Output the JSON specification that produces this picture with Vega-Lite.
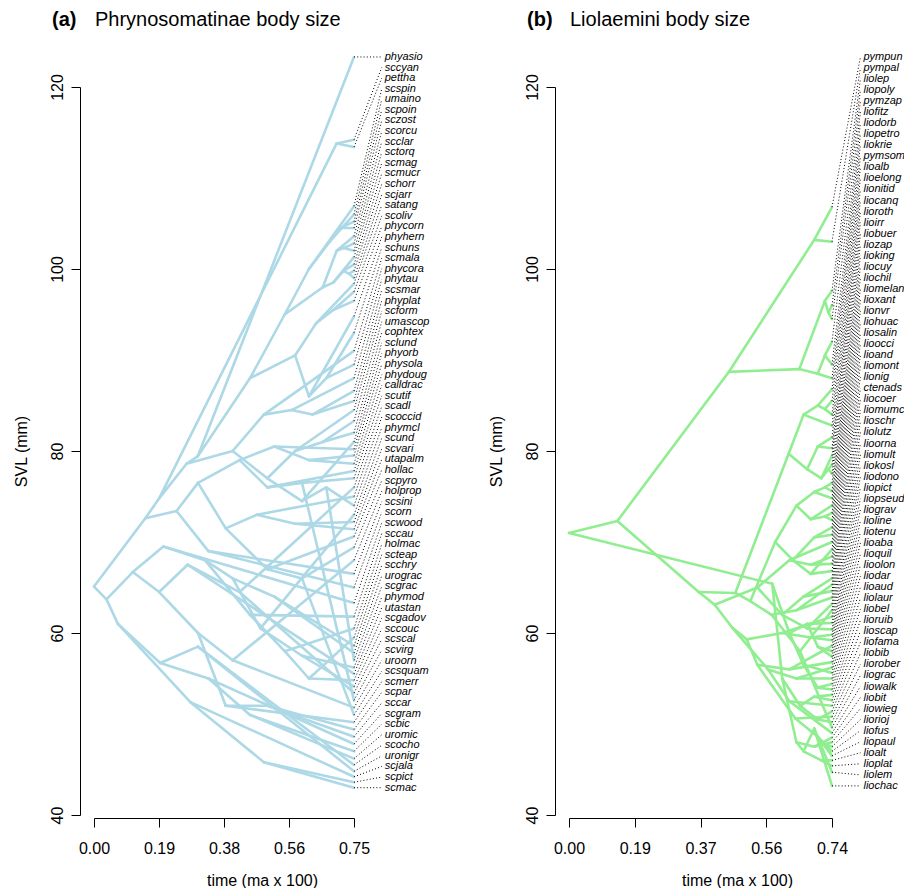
{
  "$schema": "https://vega.github.io/schema/vega-lite/v6.json",
  "padding": {"left": 13, "top": 9, "right": 0, "bottom": 0},
  "spacing": 475,
  "bounds": "flush",
  "datasets": {
    "edgesA": [
      {"t0":0,"v0":65.1,"t1":0.148,"v1":72.6},
      {"t0":0,"v0":65.1,"t1":0.036,"v1":63.7},
      {"t0":0.148,"v0":72.6,"t1":0.188,"v1":74.8},
      {"t0":0.148,"v0":72.6,"t1":0.238,"v1":73.4},
      {"t0":0.188,"v0":74.8,"t1":0.267,"v1":78.6},
      {"t0":0.188,"v0":74.8,"t1":0.70,"v1":113.8},
      {"t0":0.70,"v0":113.8,"t1":0.75,"v1":114.2},
      {"t0":0.70,"v0":113.8,"t1":0.75,"v1":113.4},
      {"t0":0.267,"v0":78.6,"t1":0.299,"v1":79.4},
      {"t0":0.267,"v0":78.6,"t1":0.40,"v1":80.0},
      {"t0":0.299,"v0":79.4,"t1":0.75,"v1":123.3},
      {"t0":0.299,"v0":79.4,"t1":0.45,"v1":88.0},
      {"t0":0.45,"v0":88.0,"t1":0.55,"v1":95.0},
      {"t0":0.45,"v0":88.0,"t1":0.58,"v1":90.5},
      {"t0":0.55,"v0":95.0,"t1":0.62,"v1":100.0},
      {"t0":0.55,"v0":95.0,"t1":0.66,"v1":98.0},
      {"t0":0.62,"v0":100.0,"t1":0.68,"v1":103.0},
      {"t0":0.62,"v0":100.0,"t1":0.75,"v1":106.9},
      {"t0":0.68,"v0":103.0,"t1":0.75,"v1":106.0},
      {"t0":0.68,"v0":103.0,"t1":0.71,"v1":104.5},
      {"t0":0.71,"v0":104.5,"t1":0.75,"v1":105.2},
      {"t0":0.71,"v0":104.5,"t1":0.75,"v1":104.5},
      {"t0":0.66,"v0":98.0,"t1":0.70,"v1":102.0},
      {"t0":0.66,"v0":98.0,"t1":0.69,"v1":98.5},
      {"t0":0.70,"v0":102.0,"t1":0.75,"v1":103.6},
      {"t0":0.70,"v0":102.0,"t1":0.72,"v1":102.3},
      {"t0":0.72,"v0":102.3,"t1":0.75,"v1":102.8},
      {"t0":0.72,"v0":102.3,"t1":0.75,"v1":102.0},
      {"t0":0.69,"v0":98.5,"t1":0.75,"v1":101.3},
      {"t0":0.69,"v0":98.5,"t1":0.72,"v1":99.8},
      {"t0":0.72,"v0":99.8,"t1":0.75,"v1":100.5},
      {"t0":0.72,"v0":99.8,"t1":0.735,"v1":99.5},
      {"t0":0.735,"v0":99.5,"t1":0.75,"v1":99.8},
      {"t0":0.735,"v0":99.5,"t1":0.75,"v1":99.0},
      {"t0":0.58,"v0":90.5,"t1":0.64,"v1":94.0},
      {"t0":0.58,"v0":90.5,"t1":0.62,"v1":86.0},
      {"t0":0.64,"v0":94.0,"t1":0.75,"v1":98.4},
      {"t0":0.64,"v0":94.0,"t1":0.69,"v1":95.5},
      {"t0":0.69,"v0":95.5,"t1":0.75,"v1":97.5},
      {"t0":0.69,"v0":95.5,"t1":0.75,"v1":96.5},
      {"t0":0.62,"v0":86.0,"t1":0.75,"v1":94.8},
      {"t0":0.62,"v0":86.0,"t1":0.67,"v1":88.0},
      {"t0":0.67,"v0":88.0,"t1":0.75,"v1":93.0},
      {"t0":0.67,"v0":88.0,"t1":0.75,"v1":89.5},
      {"t0":0.40,"v0":80.0,"t1":0.49,"v1":84.0},
      {"t0":0.40,"v0":80.0,"t1":0.50,"v1":77.0},
      {"t0":0.49,"v0":84.0,"t1":0.75,"v1":91.0},
      {"t0":0.49,"v0":84.0,"t1":0.57,"v1":84.5},
      {"t0":0.57,"v0":84.5,"t1":0.75,"v1":88.0},
      {"t0":0.57,"v0":84.5,"t1":0.63,"v1":84.0},
      {"t0":0.63,"v0":84.0,"t1":0.75,"v1":86.6},
      {"t0":0.63,"v0":84.0,"t1":0.75,"v1":85.5},
      {"t0":0.50,"v0":77.0,"t1":0.58,"v1":80.0},
      {"t0":0.50,"v0":77.0,"t1":0.60,"v1":74.5},
      {"t0":0.58,"v0":80.0,"t1":0.75,"v1":84.5},
      {"t0":0.58,"v0":80.0,"t1":0.66,"v1":81.0},
      {"t0":0.66,"v0":81.0,"t1":0.75,"v1":83.3},
      {"t0":0.66,"v0":81.0,"t1":0.75,"v1":82.0},
      {"t0":0.60,"v0":74.5,"t1":0.75,"v1":81.0},
      {"t0":0.60,"v0":74.5,"t1":0.67,"v1":76.0},
      {"t0":0.67,"v0":76.0,"t1":0.75,"v1":74.0},
      {"t0":0.67,"v0":76.0,"t1":0.75,"v1":57.0},
      {"t0":0.238,"v0":73.4,"t1":0.30,"v1":76.5},
      {"t0":0.238,"v0":73.4,"t1":0.33,"v1":69.0},
      {"t0":0.30,"v0":76.5,"t1":0.42,"v1":79.0},
      {"t0":0.30,"v0":76.5,"t1":0.38,"v1":71.5},
      {"t0":0.42,"v0":79.0,"t1":0.52,"v1":80.5},
      {"t0":0.42,"v0":79.0,"t1":0.50,"v1":76.0},
      {"t0":0.52,"v0":80.5,"t1":0.75,"v1":80.2},
      {"t0":0.52,"v0":80.5,"t1":0.62,"v1":79.0},
      {"t0":0.62,"v0":79.0,"t1":0.75,"v1":79.5},
      {"t0":0.62,"v0":79.0,"t1":0.75,"v1":78.6},
      {"t0":0.50,"v0":76.0,"t1":0.75,"v1":77.8},
      {"t0":0.50,"v0":76.0,"t1":0.60,"v1":76.5},
      {"t0":0.60,"v0":76.5,"t1":0.75,"v1":77.0},
      {"t0":0.60,"v0":76.5,"t1":0.75,"v1":52.6},
      {"t0":0.38,"v0":71.5,"t1":0.47,"v1":73.0},
      {"t0":0.38,"v0":71.5,"t1":0.50,"v1":67.0},
      {"t0":0.47,"v0":73.0,"t1":0.75,"v1":75.0},
      {"t0":0.47,"v0":73.0,"t1":0.58,"v1":72.0},
      {"t0":0.58,"v0":72.0,"t1":0.75,"v1":72.2},
      {"t0":0.58,"v0":72.0,"t1":0.75,"v1":71.4},
      {"t0":0.50,"v0":67.0,"t1":0.75,"v1":70.6},
      {"t0":0.50,"v0":67.0,"t1":0.60,"v1":66.0},
      {"t0":0.60,"v0":66.0,"t1":0.75,"v1":69.4},
      {"t0":0.60,"v0":66.0,"t1":0.75,"v1":51.0},
      {"t0":0.33,"v0":69.0,"t1":0.75,"v1":66.5},
      {"t0":0.33,"v0":69.0,"t1":0.75,"v1":65.0},
      {"t0":0.036,"v0":63.7,"t1":0.112,"v1":66.7},
      {"t0":0.036,"v0":63.7,"t1":0.069,"v1":61.0},
      {"t0":0.112,"v0":66.7,"t1":0.188,"v1":64.5},
      {"t0":0.112,"v0":66.7,"t1":0.20,"v1":69.5},
      {"t0":0.20,"v0":69.5,"t1":0.32,"v1":68.0},
      {"t0":0.20,"v0":69.5,"t1":0.75,"v1":63.3},
      {"t0":0.32,"v0":68.0,"t1":0.45,"v1":62.0},
      {"t0":0.32,"v0":68.0,"t1":0.40,"v1":66.0},
      {"t0":0.45,"v0":62.0,"t1":0.75,"v1":61.8},
      {"t0":0.45,"v0":62.0,"t1":0.55,"v1":58.0},
      {"t0":0.55,"v0":58.0,"t1":0.75,"v1":60.5},
      {"t0":0.55,"v0":58.0,"t1":0.62,"v1":55.0},
      {"t0":0.62,"v0":55.0,"t1":0.75,"v1":59.5},
      {"t0":0.62,"v0":55.0,"t1":0.75,"v1":54.8},
      {"t0":0.40,"v0":66.0,"t1":0.52,"v1":64.0},
      {"t0":0.40,"v0":66.0,"t1":0.48,"v1":60.5},
      {"t0":0.52,"v0":64.0,"t1":0.75,"v1":58.6},
      {"t0":0.52,"v0":64.0,"t1":0.75,"v1":57.8},
      {"t0":0.48,"v0":60.5,"t1":0.75,"v1":73.0},
      {"t0":0.48,"v0":60.5,"t1":0.60,"v1":57.5},
      {"t0":0.60,"v0":57.5,"t1":0.75,"v1":56.2},
      {"t0":0.60,"v0":57.5,"t1":0.75,"v1":54.1},
      {"t0":0.188,"v0":64.5,"t1":0.30,"v1":60.0},
      {"t0":0.188,"v0":64.5,"t1":0.27,"v1":67.5},
      {"t0":0.27,"v0":67.5,"t1":0.75,"v1":55.5},
      {"t0":0.27,"v0":67.5,"t1":0.42,"v1":64.5},
      {"t0":0.42,"v0":64.5,"t1":0.75,"v1":53.4},
      {"t0":0.42,"v0":64.5,"t1":0.75,"v1":76.0},
      {"t0":0.30,"v0":60.0,"t1":0.40,"v1":57.0},
      {"t0":0.30,"v0":60.0,"t1":0.38,"v1":52.0},
      {"t0":0.40,"v0":57.0,"t1":0.75,"v1":51.8},
      {"t0":0.40,"v0":57.0,"t1":0.75,"v1":68.0},
      {"t0":0.38,"v0":52.0,"t1":0.75,"v1":50.2},
      {"t0":0.38,"v0":52.0,"t1":0.50,"v1":52.0},
      {"t0":0.50,"v0":52.0,"t1":0.75,"v1":49.4},
      {"t0":0.50,"v0":52.0,"t1":0.75,"v1":48.6},
      {"t0":0.069,"v0":61.0,"t1":0.191,"v1":56.7},
      {"t0":0.069,"v0":61.0,"t1":0.278,"v1":52.4},
      {"t0":0.191,"v0":56.7,"t1":0.33,"v1":55.0},
      {"t0":0.191,"v0":56.7,"t1":0.30,"v1":58.5},
      {"t0":0.33,"v0":55.0,"t1":0.75,"v1":47.8},
      {"t0":0.33,"v0":55.0,"t1":0.45,"v1":51.0},
      {"t0":0.45,"v0":51.0,"t1":0.75,"v1":47.0},
      {"t0":0.45,"v0":51.0,"t1":0.75,"v1":46.2},
      {"t0":0.30,"v0":58.5,"t1":0.75,"v1":45.5},
      {"t0":0.30,"v0":58.5,"t1":0.75,"v1":44.8},
      {"t0":0.278,"v0":52.4,"t1":0.49,"v1":45.8},
      {"t0":0.278,"v0":52.4,"t1":0.75,"v1":44.2},
      {"t0":0.49,"v0":45.8,"t1":0.75,"v1":43.6},
      {"t0":0.49,"v0":45.8,"t1":0.75,"v1":43.0}
    ],
    "tipsA": [
      {"tip":"phyasio","value":123.3,"labelY":123.30},
      {"tip":"sccyan","value":114.2,"labelY":122.14},
      {"tip":"pettha","value":113.4,"labelY":120.97},
      {"tip":"scspin","value":106.9,"labelY":119.81},
      {"tip":"umaino","value":106.0,"labelY":118.64},
      {"tip":"scpoin","value":105.2,"labelY":117.48},
      {"tip":"sczost","value":104.5,"labelY":116.32},
      {"tip":"scorcu","value":103.6,"labelY":115.15},
      {"tip":"scclar","value":102.8,"labelY":113.99},
      {"tip":"sctorq","value":102.0,"labelY":112.83},
      {"tip":"scmag","value":101.3,"labelY":111.66},
      {"tip":"scmucr","value":100.5,"labelY":110.50},
      {"tip":"schorr","value":99.8,"labelY":109.33},
      {"tip":"scjarr","value":99.0,"labelY":108.17},
      {"tip":"satang","value":98.4,"labelY":107.01},
      {"tip":"scoliv","value":97.5,"labelY":105.84},
      {"tip":"phycorn","value":96.5,"labelY":104.68},
      {"tip":"phyhern","value":94.8,"labelY":103.52},
      {"tip":"schuns","value":93.0,"labelY":102.35},
      {"tip":"scmala","value":91.0,"labelY":101.19},
      {"tip":"phycora","value":89.5,"labelY":100.03},
      {"tip":"phytau","value":88.0,"labelY":98.86},
      {"tip":"scsmar","value":86.6,"labelY":97.70},
      {"tip":"phyplat","value":85.5,"labelY":96.53},
      {"tip":"scform","value":84.5,"labelY":95.37},
      {"tip":"umascop","value":83.3,"labelY":94.21},
      {"tip":"cophtex","value":82.0,"labelY":93.04},
      {"tip":"sclund","value":81.0,"labelY":91.88},
      {"tip":"phyorb","value":80.2,"labelY":90.72},
      {"tip":"physola","value":79.5,"labelY":89.55},
      {"tip":"phydoug","value":78.6,"labelY":88.39},
      {"tip":"calldrac","value":77.8,"labelY":87.22},
      {"tip":"scutif","value":77.0,"labelY":86.06},
      {"tip":"scadl","value":76.0,"labelY":84.90},
      {"tip":"scoccid","value":75.0,"labelY":83.73},
      {"tip":"phymcl","value":74.0,"labelY":82.57},
      {"tip":"scund","value":73.0,"labelY":81.41},
      {"tip":"scvari","value":72.2,"labelY":80.24},
      {"tip":"utapalm","value":71.4,"labelY":79.08},
      {"tip":"hollac","value":70.6,"labelY":77.91},
      {"tip":"scpyro","value":69.4,"labelY":76.75},
      {"tip":"holprop","value":68.0,"labelY":75.59},
      {"tip":"scsini","value":66.5,"labelY":74.42},
      {"tip":"scorn","value":65.0,"labelY":73.26},
      {"tip":"scwood","value":63.3,"labelY":72.10},
      {"tip":"sccau","value":61.8,"labelY":70.93},
      {"tip":"holmac","value":60.5,"labelY":69.77},
      {"tip":"scteap","value":59.5,"labelY":68.60},
      {"tip":"scchry","value":58.6,"labelY":67.44},
      {"tip":"urograc","value":57.8,"labelY":66.28},
      {"tip":"scgrac","value":57.0,"labelY":65.11},
      {"tip":"phymod","value":56.2,"labelY":63.95},
      {"tip":"utastan","value":55.5,"labelY":62.79},
      {"tip":"scgadov","value":54.8,"labelY":61.62},
      {"tip":"sccouc","value":54.1,"labelY":60.46},
      {"tip":"scscal","value":53.4,"labelY":59.30},
      {"tip":"scvirg","value":52.6,"labelY":58.13},
      {"tip":"uroorn","value":51.8,"labelY":56.97},
      {"tip":"scsquam","value":51.0,"labelY":55.80},
      {"tip":"scmerr","value":50.2,"labelY":54.64},
      {"tip":"scpar","value":49.4,"labelY":53.48},
      {"tip":"sccar","value":48.6,"labelY":52.31},
      {"tip":"scgram","value":47.8,"labelY":51.15},
      {"tip":"scbic","value":47.0,"labelY":49.99},
      {"tip":"uromic","value":46.2,"labelY":48.82},
      {"tip":"scocho","value":45.5,"labelY":47.66},
      {"tip":"uronigr","value":44.8,"labelY":46.49},
      {"tip":"scjala","value":44.2,"labelY":45.33},
      {"tip":"scpict","value":43.6,"labelY":44.17},
      {"tip":"scmac","value":43.0,"labelY":43.00}
    ],
    "edgesB": [
      {"t0":0,"v0":71.0,"t1":0.136,"v1":72.3},
      {"t0":0,"v0":71.0,"t1":0.572,"v1":65.4},
      {"t0":0.136,"v0":72.3,"t1":0.45,"v1":88.7},
      {"t0":0.136,"v0":72.3,"t1":0.365,"v1":64.5},
      {"t0":0.45,"v0":88.7,"t1":0.69,"v1":103.2},
      {"t0":0.45,"v0":88.7,"t1":0.648,"v1":89.0},
      {"t0":0.69,"v0":103.2,"t1":0.74,"v1":106.8},
      {"t0":0.69,"v0":103.2,"t1":0.74,"v1":103.0},
      {"t0":0.648,"v0":89.0,"t1":0.72,"v1":96.5},
      {"t0":0.648,"v0":89.0,"t1":0.70,"v1":88.5},
      {"t0":0.72,"v0":96.5,"t1":0.74,"v1":97.6},
      {"t0":0.72,"v0":96.5,"t1":0.73,"v1":95.2},
      {"t0":0.73,"v0":95.2,"t1":0.74,"v1":96.0},
      {"t0":0.73,"v0":95.2,"t1":0.74,"v1":94.5},
      {"t0":0.70,"v0":88.5,"t1":0.72,"v1":90.5},
      {"t0":0.70,"v0":88.5,"t1":0.74,"v1":88.0},
      {"t0":0.72,"v0":90.5,"t1":0.74,"v1":92.0},
      {"t0":0.72,"v0":90.5,"t1":0.74,"v1":89.5},
      {"t0":0.365,"v0":64.5,"t1":0.468,"v1":64.4},
      {"t0":0.365,"v0":64.5,"t1":0.41,"v1":63.1},
      {"t0":0.468,"v0":64.4,"t1":0.618,"v1":79.7},
      {"t0":0.468,"v0":64.4,"t1":0.51,"v1":63.5},
      {"t0":0.618,"v0":79.7,"t1":0.66,"v1":84.0},
      {"t0":0.618,"v0":79.7,"t1":0.67,"v1":78.0},
      {"t0":0.66,"v0":84.0,"t1":0.70,"v1":85.0},
      {"t0":0.66,"v0":84.0,"t1":0.74,"v1":82.8},
      {"t0":0.70,"v0":85.0,"t1":0.74,"v1":86.8},
      {"t0":0.70,"v0":85.0,"t1":0.72,"v1":84.6},
      {"t0":0.72,"v0":84.6,"t1":0.74,"v1":85.5},
      {"t0":0.72,"v0":84.6,"t1":0.74,"v1":84.0},
      {"t0":0.67,"v0":78.0,"t1":0.70,"v1":80.5},
      {"t0":0.67,"v0":78.0,"t1":0.71,"v1":77.0},
      {"t0":0.70,"v0":80.5,"t1":0.74,"v1":81.5},
      {"t0":0.70,"v0":80.5,"t1":0.74,"v1":80.3},
      {"t0":0.71,"v0":77.0,"t1":0.74,"v1":79.5},
      {"t0":0.71,"v0":77.0,"t1":0.73,"v1":78.0},
      {"t0":0.73,"v0":78.0,"t1":0.74,"v1":78.5},
      {"t0":0.73,"v0":78.0,"t1":0.74,"v1":77.5},
      {"t0":0.51,"v0":63.5,"t1":0.58,"v1":70.0},
      {"t0":0.51,"v0":63.5,"t1":0.57,"v1":62.0},
      {"t0":0.58,"v0":70.0,"t1":0.64,"v1":74.0},
      {"t0":0.58,"v0":70.0,"t1":0.63,"v1":68.0},
      {"t0":0.64,"v0":74.0,"t1":0.69,"v1":75.5},
      {"t0":0.64,"v0":74.0,"t1":0.68,"v1":72.5},
      {"t0":0.69,"v0":75.5,"t1":0.72,"v1":76.0},
      {"t0":0.69,"v0":75.5,"t1":0.74,"v1":74.8},
      {"t0":0.72,"v0":76.0,"t1":0.74,"v1":76.5},
      {"t0":0.72,"v0":76.0,"t1":0.74,"v1":75.6},
      {"t0":0.68,"v0":72.5,"t1":0.74,"v1":74.0},
      {"t0":0.68,"v0":72.5,"t1":0.72,"v1":72.8},
      {"t0":0.72,"v0":72.8,"t1":0.74,"v1":73.2},
      {"t0":0.72,"v0":72.8,"t1":0.74,"v1":72.4},
      {"t0":0.63,"v0":68.0,"t1":0.69,"v1":70.5},
      {"t0":0.63,"v0":68.0,"t1":0.68,"v1":66.5},
      {"t0":0.69,"v0":70.5,"t1":0.74,"v1":71.6},
      {"t0":0.69,"v0":70.5,"t1":0.74,"v1":70.8},
      {"t0":0.68,"v0":66.5,"t1":0.74,"v1":69.2},
      {"t0":0.68,"v0":66.5,"t1":0.74,"v1":66.8},
      {"t0":0.57,"v0":62.0,"t1":0.64,"v1":62.5},
      {"t0":0.57,"v0":62.0,"t1":0.65,"v1":58.0},
      {"t0":0.64,"v0":62.5,"t1":0.74,"v1":65.3},
      {"t0":0.64,"v0":62.5,"t1":0.74,"v1":63.9},
      {"t0":0.65,"v0":58.0,"t1":0.74,"v1":62.5},
      {"t0":0.65,"v0":58.0,"t1":0.74,"v1":49.6},
      {"t0":0.41,"v0":63.1,"t1":0.459,"v1":60.6},
      {"t0":0.41,"v0":63.1,"t1":0.53,"v1":65.0},
      {"t0":0.53,"v0":65.0,"t1":0.62,"v1":68.0},
      {"t0":0.53,"v0":65.0,"t1":0.60,"v1":62.0},
      {"t0":0.62,"v0":68.0,"t1":0.74,"v1":70.0},
      {"t0":0.62,"v0":68.0,"t1":0.68,"v1":67.5},
      {"t0":0.68,"v0":67.5,"t1":0.74,"v1":68.4},
      {"t0":0.68,"v0":67.5,"t1":0.74,"v1":67.6},
      {"t0":0.60,"v0":62.0,"t1":0.66,"v1":64.0},
      {"t0":0.60,"v0":62.0,"t1":0.67,"v1":60.5},
      {"t0":0.66,"v0":64.0,"t1":0.74,"v1":66.0},
      {"t0":0.66,"v0":64.0,"t1":0.74,"v1":64.6},
      {"t0":0.67,"v0":60.5,"t1":0.74,"v1":63.2},
      {"t0":0.67,"v0":60.5,"t1":0.74,"v1":60.4},
      {"t0":0.459,"v0":60.6,"t1":0.50,"v1":59.3},
      {"t0":0.459,"v0":60.6,"t1":0.56,"v1":56.0},
      {"t0":0.50,"v0":59.3,"t1":0.60,"v1":60.0},
      {"t0":0.50,"v0":59.3,"t1":0.53,"v1":56.5},
      {"t0":0.60,"v0":60.0,"t1":0.74,"v1":61.8},
      {"t0":0.60,"v0":60.0,"t1":0.68,"v1":59.5},
      {"t0":0.68,"v0":59.5,"t1":0.74,"v1":59.8},
      {"t0":0.68,"v0":59.5,"t1":0.74,"v1":59.2},
      {"t0":0.53,"v0":56.5,"t1":0.637,"v1":50.6},
      {"t0":0.53,"v0":56.5,"t1":0.62,"v1":56.0},
      {"t0":0.637,"v0":50.6,"t1":0.70,"v1":48.6},
      {"t0":0.637,"v0":50.6,"t1":0.74,"v1":50.8},
      {"t0":0.70,"v0":48.6,"t1":0.74,"v1":47.0},
      {"t0":0.70,"v0":48.6,"t1":0.74,"v1":46.5},
      {"t0":0.62,"v0":56.0,"t1":0.74,"v1":58.6},
      {"t0":0.62,"v0":56.0,"t1":0.74,"v1":56.8},
      {"t0":0.56,"v0":56.0,"t1":0.64,"v1":55.0},
      {"t0":0.56,"v0":56.0,"t1":0.62,"v1":52.5},
      {"t0":0.64,"v0":55.0,"t1":0.74,"v1":56.2},
      {"t0":0.64,"v0":55.0,"t1":0.74,"v1":55.0},
      {"t0":0.62,"v0":52.5,"t1":0.74,"v1":52.0},
      {"t0":0.62,"v0":52.5,"t1":0.74,"v1":49.0},
      {"t0":0.572,"v0":65.4,"t1":0.62,"v1":60.0},
      {"t0":0.572,"v0":65.4,"t1":0.60,"v1":55.0},
      {"t0":0.62,"v0":60.0,"t1":0.67,"v1":61.0},
      {"t0":0.62,"v0":60.0,"t1":0.66,"v1":56.5},
      {"t0":0.67,"v0":61.0,"t1":0.74,"v1":61.1},
      {"t0":0.67,"v0":61.0,"t1":0.70,"v1":58.5},
      {"t0":0.70,"v0":58.5,"t1":0.74,"v1":58.0},
      {"t0":0.70,"v0":58.5,"t1":0.74,"v1":57.4},
      {"t0":0.66,"v0":56.5,"t1":0.74,"v1":55.6},
      {"t0":0.66,"v0":56.5,"t1":0.70,"v1":54.0},
      {"t0":0.70,"v0":54.0,"t1":0.74,"v1":54.4},
      {"t0":0.70,"v0":54.0,"t1":0.74,"v1":53.8},
      {"t0":0.60,"v0":55.0,"t1":0.65,"v1":52.0},
      {"t0":0.60,"v0":55.0,"t1":0.64,"v1":48.0},
      {"t0":0.65,"v0":52.0,"t1":0.69,"v1":53.0},
      {"t0":0.65,"v0":52.0,"t1":0.70,"v1":50.5},
      {"t0":0.69,"v0":53.0,"t1":0.74,"v1":53.2},
      {"t0":0.69,"v0":53.0,"t1":0.74,"v1":52.6},
      {"t0":0.70,"v0":50.5,"t1":0.74,"v1":51.4},
      {"t0":0.70,"v0":50.5,"t1":0.74,"v1":50.2},
      {"t0":0.64,"v0":48.0,"t1":0.69,"v1":47.5},
      {"t0":0.64,"v0":48.0,"t1":0.66,"v1":47.0},
      {"t0":0.69,"v0":47.5,"t1":0.74,"v1":48.5},
      {"t0":0.69,"v0":47.5,"t1":0.72,"v1":47.8},
      {"t0":0.72,"v0":47.8,"t1":0.74,"v1":48.0},
      {"t0":0.72,"v0":47.8,"t1":0.74,"v1":47.5},
      {"t0":0.66,"v0":47.0,"t1":0.71,"v1":46.0},
      {"t0":0.66,"v0":47.0,"t1":0.69,"v1":49.5},
      {"t0":0.71,"v0":46.0,"t1":0.74,"v1":46.0},
      {"t0":0.71,"v0":46.0,"t1":0.74,"v1":45.4},
      {"t0":0.69,"v0":49.5,"t1":0.74,"v1":44.7},
      {"t0":0.69,"v0":49.5,"t1":0.74,"v1":43.2}
    ],
    "tipsB": [
      {"tip":"pympun","value":106.8,"labelY":123.30},
      {"tip":"pympal","value":103.0,"labelY":122.09},
      {"tip":"liolep","value":97.6,"labelY":120.87},
      {"tip":"liopoly","value":96.0,"labelY":119.66},
      {"tip":"pymzap","value":94.5,"labelY":118.45},
      {"tip":"liofitz","value":92.0,"labelY":117.23},
      {"tip":"liodorb","value":89.5,"labelY":116.02},
      {"tip":"liopetro","value":88.0,"labelY":114.80},
      {"tip":"liokrie","value":86.8,"labelY":113.59},
      {"tip":"pymsom","value":85.5,"labelY":112.38},
      {"tip":"lioalb","value":84.0,"labelY":111.16},
      {"tip":"lioelong","value":82.8,"labelY":109.95},
      {"tip":"lionitid","value":81.5,"labelY":108.74},
      {"tip":"liocanq","value":80.3,"labelY":107.52},
      {"tip":"lioroth","value":79.5,"labelY":106.31},
      {"tip":"lioirr","value":78.5,"labelY":105.10},
      {"tip":"liobuer","value":77.5,"labelY":103.88},
      {"tip":"liozap","value":76.5,"labelY":102.67},
      {"tip":"lioking","value":75.6,"labelY":101.45},
      {"tip":"liocuy","value":74.8,"labelY":100.24},
      {"tip":"liochil","value":74.0,"labelY":99.03},
      {"tip":"liomelan","value":73.2,"labelY":97.81},
      {"tip":"lioxant","value":72.4,"labelY":96.60},
      {"tip":"lionvr","value":71.6,"labelY":95.39},
      {"tip":"liohuac","value":70.8,"labelY":94.17},
      {"tip":"liosalin","value":70.0,"labelY":92.96},
      {"tip":"lioocci","value":69.2,"labelY":91.75},
      {"tip":"lioand","value":68.4,"labelY":90.53},
      {"tip":"liomont","value":67.6,"labelY":89.32},
      {"tip":"lionig","value":66.8,"labelY":88.10},
      {"tip":"ctenads","value":66.0,"labelY":86.89},
      {"tip":"liocoer","value":65.3,"labelY":85.68},
      {"tip":"liomumc","value":64.6,"labelY":84.46},
      {"tip":"lioschr","value":63.9,"labelY":83.25},
      {"tip":"liolutz","value":63.2,"labelY":82.04},
      {"tip":"lioorna","value":62.5,"labelY":80.82},
      {"tip":"liomult","value":61.8,"labelY":79.61},
      {"tip":"liokosl","value":61.1,"labelY":78.40},
      {"tip":"liodono","value":60.4,"labelY":77.18},
      {"tip":"liopict","value":59.8,"labelY":75.97},
      {"tip":"liopseud","value":59.2,"labelY":74.75},
      {"tip":"liograv","value":58.6,"labelY":73.54},
      {"tip":"lioline","value":58.0,"labelY":72.33},
      {"tip":"liotenu","value":57.4,"labelY":71.11},
      {"tip":"lioaba","value":56.8,"labelY":69.90},
      {"tip":"lioquil","value":56.2,"labelY":68.69},
      {"tip":"lioolon","value":55.6,"labelY":67.47},
      {"tip":"liodar","value":55.0,"labelY":66.26},
      {"tip":"lioaud","value":54.4,"labelY":65.05},
      {"tip":"liolaur","value":53.8,"labelY":63.83},
      {"tip":"liobel","value":53.2,"labelY":62.62},
      {"tip":"lioruib","value":52.6,"labelY":61.40},
      {"tip":"lioscap","value":52.0,"labelY":60.19},
      {"tip":"liofama","value":51.4,"labelY":58.98},
      {"tip":"liobib","value":50.8,"labelY":57.76},
      {"tip":"liorober","value":50.2,"labelY":56.55},
      {"tip":"liograc","value":49.6,"labelY":55.34},
      {"tip":"liowalk","value":49.0,"labelY":54.12},
      {"tip":"liobit","value":48.5,"labelY":52.91},
      {"tip":"liowieg","value":48.0,"labelY":51.70},
      {"tip":"liorioj","value":47.5,"labelY":50.48},
      {"tip":"liofus","value":47.0,"labelY":49.27},
      {"tip":"liopaul","value":46.5,"labelY":48.05},
      {"tip":"lioalt","value":46.0,"labelY":46.84},
      {"tip":"lioplat","value":45.4,"labelY":45.63},
      {"tip":"liolem","value":44.7,"labelY":44.41},
      {"tip":"liochac","value":43.2,"labelY":43.20}
    ]
  },
  "hconcat": [
    {
      "title": {"text": "(a)", "anchor": "start", "frame": "group", "dx": -42, "dy": 20, "offset": 0},
      "bounds": "flush",
      "vconcat": [
        {
          "width": 260,
          "height": 728,
          "title": {"text": "Phrynosomatinae body size", "anchor": "start", "frame": "group", "dx": 1, "fontWeight": "normal"},
          "layer": [
            {
              "data": {"name": "edgesA"},
              "mark": {"type": "rule", "color": "#ADD8E6", "strokeWidth": 2.6, "strokeCap": "round"},
              "encoding": {
                "x": {"field": "t0", "type": "quantitative", "title": "time (ma x 100)", "scale": {"domain": [0, 0.75], "nice": false, "zero": false},
                      "axis": {"values": [0, 0.1875, 0.375, 0.5625, 0.75], "format": ".2f", "offset": 3, "labelPadding": 13, "titleX": 168, "titleY": 67, "titleAlign": "center", "titleBaseline": "alphabetic", "labelFlush": false, "labelOverlap": false}},
                "y": {"field": "v0", "type": "quantitative", "title": "SVL (mm)", "scale": {"domain": [40, 120], "nice": false, "zero": false},
                      "axis": {"values": [40, 60, 80, 100, 120], "offset": 14, "labelAngle": -90, "labelAlign": "center", "labelBaseline": "alphabetic", "labelPadding": 9, "titleX": -54, "titleY": 364, "titleAlign": "center", "titleBaseline": "alphabetic", "titleAngle": 270, "labelFlush": false, "labelOverlap": false}},
                "x2": {"field": "t1"},
                "y2": {"field": "v1"}
              }
            },
            {
              "data": {"name": "tipsA"},
              "mark": {"type": "rule", "color": "#000000", "strokeWidth": 1, "strokeDash": [1, 2.2]},
              "encoding": {
                "x": {"datum": 0.75, "type": "quantitative", "title": "time (ma x 100)", "scale": {"domain": [0, 0.75], "nice": false, "zero": false}},
                "x2": {"datum": 0.83},
                "y": {"field": "value", "type": "quantitative", "title": "SVL (mm)", "scale": {"domain": [40, 120], "nice": false, "zero": false}},
                "y2": {"field": "labelY"}
              }
            },
            {
              "data": {"name": "tipsA"},
              "mark": {"type": "text", "align": "left", "baseline": "middle", "dx": 3, "fontStyle": "italic", "fontSize": 11, "font": "Liberation Sans", "color": "#000000"},
              "encoding": {
                "x": {"datum": 0.83, "type": "quantitative", "title": "time (ma x 100)", "scale": {"domain": [0, 0.75], "nice": false, "zero": false}},
                "y": {"field": "labelY", "type": "quantitative", "title": "SVL (mm)", "scale": {"domain": [40, 120], "nice": false, "zero": false}},
                "text": {"field": "tip"}
              }
            }
          ]
        }
      ]
    },
    {
      "title": {"text": "(b)", "anchor": "start", "frame": "group", "dx": -42, "dy": 20, "offset": 0},
      "bounds": "flush",
      "vconcat": [
        {
          "width": 263,
          "height": 728,
          "title": {"text": "Liolaemini body size", "anchor": "start", "frame": "group", "dx": 1, "fontWeight": "normal"},
          "layer": [
            {
              "data": {"name": "edgesB"},
              "mark": {"type": "rule", "color": "#90EE90", "strokeWidth": 2.6, "strokeCap": "round"},
              "encoding": {
                "x": {"field": "t0", "type": "quantitative", "title": "time (ma x 100)", "scale": {"domain": [0, 0.74], "nice": false, "zero": false},
                      "axis": {"values": [0, 0.1851, 0.37, 0.5551, 0.74], "format": ".2f", "offset": 3, "labelPadding": 13, "titleX": 168, "titleY": 67, "titleAlign": "center", "titleBaseline": "alphabetic", "labelFlush": false, "labelOverlap": false}},
                "y": {"field": "v0", "type": "quantitative", "title": "SVL (mm)", "scale": {"domain": [40, 120], "nice": false, "zero": false},
                      "axis": {"values": [40, 60, 80, 100, 120], "offset": 14, "labelAngle": -90, "labelAlign": "center", "labelBaseline": "alphabetic", "labelPadding": 9, "titleX": -54, "titleY": 364, "titleAlign": "center", "titleBaseline": "alphabetic", "titleAngle": 270, "labelFlush": false, "labelOverlap": false}},
                "x2": {"field": "t1"},
                "y2": {"field": "v1"}
              }
            },
            {
              "data": {"name": "tipsB"},
              "mark": {"type": "rule", "color": "#000000", "strokeWidth": 1, "strokeDash": [1, 2.2]},
              "encoding": {
                "x": {"datum": 0.74, "type": "quantitative", "title": "time (ma x 100)", "scale": {"domain": [0, 0.74], "nice": false, "zero": false}},
                "x2": {"datum": 0.82},
                "y": {"field": "value", "type": "quantitative", "title": "SVL (mm)", "scale": {"domain": [40, 120], "nice": false, "zero": false}},
                "y2": {"field": "labelY"}
              }
            },
            {
              "data": {"name": "tipsB"},
              "mark": {"type": "text", "align": "left", "baseline": "middle", "dx": 3, "fontStyle": "italic", "fontSize": 11, "font": "Liberation Sans", "color": "#000000"},
              "encoding": {
                "x": {"datum": 0.82, "type": "quantitative", "title": "time (ma x 100)", "scale": {"domain": [0, 0.74], "nice": false, "zero": false}},
                "y": {"field": "labelY", "type": "quantitative", "title": "SVL (mm)", "scale": {"domain": [40, 120], "nice": false, "zero": false}},
                "text": {"field": "tip"}
              }
            }
          ]
        }
      ]
    }
  ],
  "config": {
    "background": "white",
    "view": {"stroke": null},
    "font": "Liberation Sans",
    "axis": {"domainColor": "#000000", "tickColor": "#000000", "labelColor": "#000000", "titleColor": "#000000", "labelFontSize": 16, "titleFontSize": 16, "titleFontWeight": "normal", "grid": false, "tickSize": 9, "domainWidth": 1, "tickWidth": 1, "labelFont": "Liberation Sans", "titleFont": "Liberation Sans"},
    "title": {"fontSize": 20, "fontWeight": "bold", "font": "Liberation Sans", "color": "#000000", "offset": 21}
  }
}
